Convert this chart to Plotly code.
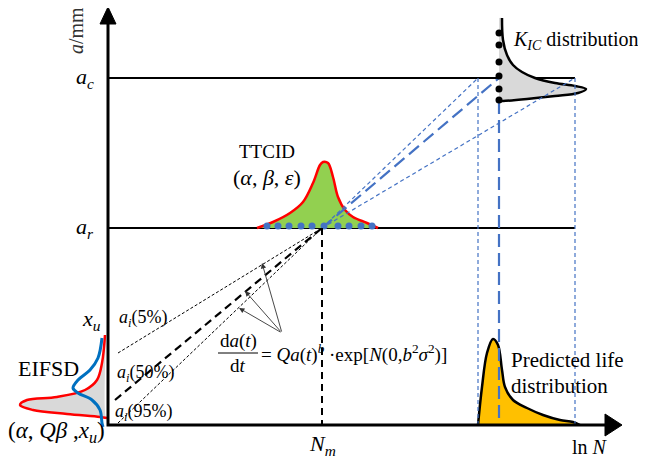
import plotly.graph_objects as go

# ---------------- data (x: ln N, y: crack size a; origin = axis corner) ----------------
A_C = 347          # critical crack size a_c
A_R = 197          # reference crack size a_r
X_U = 105          # upper EIFS bound x_u
N_M = 214          # median life N_m (at a_r)
GUIDE_END = 467    # right end of the a_c / a_r guide lines
Y_TOP = 418        # tip of the a/mm axis
X_RIGHT = 514      # tip of the ln N axis

# TTCID distribution sitting on a_r
ttcid_x = [149, 165, 182, 195, 205, 212, 215, 220, 225, 230, 237, 245, 259, 270]
ttcid_y = [197, 203, 212, 223, 242, 260, 263, 262, 248, 228, 215, 208, 202, 197]
ttcid_pts_x = [159, 170, 181, 193, 204, 216, 230, 241, 253, 264]
TTCID_PTS_Y = 199

# K_IC distribution at a_c
kic_x = [394, 395, 399, 405, 414, 427, 447, 467, 478, 470, 447, 419, 395, 391]
kic_y = [407, 385, 370, 360, 353, 347, 342, 339, 336, 332, 329, 326, 324, 324]
kic_pts_y = [392, 380, 363, 349, 336, 325]
KIC_BASE = 391

# predicted life distribution on the ln N axis
life_x = [370, 374, 379, 385, 390, 394, 397, 405, 419, 435, 452, 465, 472]
life_y = [0, 38, 72, 86, 80, 55, 38, 25, 17, 10, 5, 3, 0]

# EIFSD curves
eifs_red_x = [-3, -6, -11, -23, -51, -81, -88, -75, -41, -8, -1]
eifs_red_y = [90, 62, 45, 35, 28, 25, 20, 15, 11, 8, 7]
eifs_blue_x = [-6, -10, -18, -30, -35, -30, -16, -8, -6, -5]
eifs_blue_y = [87, 67, 55, 45, 37, 32, 25, 15, 2, -2]
EIFS_BASE = -2

# crack growth curves a_i(5%), a_i(50%), a_i(95%): start points, all converge at (N_M, A_R)
crack_labels = ["5%", "50%", "95%"]
crack_start_x = [10, 7, 10]
crack_start_y = [72, 25, 2]
crack_label_x = [35, 37, 35]
crack_label_y = [107, 52, 13]

# projections to a_c and the resulting lives on ln N
proj_x = [370, 391, 467]
proj_top = [347, 324, 347]

# arrows of the growth law
arrow_src = (174, 92)
arrow_head_x = [154, 137, 131]
arrow_head_y = [162, 134, 117]

BLUE = "#4472C4"
FONT = "Liberation Serif"

fig = go.Figure()

# guide lines a_c and a_r
for lvl in (A_C, A_R):
    fig.add_trace(go.Scatter(x=[0, GUIDE_END], y=[lvl, lvl], mode="lines",
                             line=dict(color="black", width=2.2), hoverinfo="skip"))

# EIFSD
fig.add_trace(go.Scatter(x=eifs_red_x + [EIFS_BASE, EIFS_BASE], y=eifs_red_y + [eifs_red_y[-1], eifs_red_y[0]],
                         mode="lines", line=dict(width=0, shape="spline"), fill="toself",
                         fillcolor="#D9D9D9", hoverinfo="skip"))
fig.add_trace(go.Scatter(x=eifs_red_x, y=eifs_red_y, mode="lines",
                         line=dict(color="#FF0000", width=2.5, shape="spline"), hoverinfo="skip"))
fig.add_trace(go.Scatter(x=eifs_blue_x, y=eifs_blue_y, mode="lines",
                         line=dict(color="#0070C0", width=3, shape="spline"), hoverinfo="skip"))

# TTCID
fig.add_trace(go.Scatter(x=[ttcid_x[0], ttcid_x[-1]], y=[A_R, A_R], mode="lines",
                         line=dict(width=0), hoverinfo="skip"))
fig.add_trace(go.Scatter(x=ttcid_x, y=ttcid_y, mode="lines", fill="tonexty", fillcolor="#92D050",
                         line=dict(color="#FF0000", width=2.5, shape="spline"), hoverinfo="skip"))
fig.add_trace(go.Scatter(x=ttcid_pts_x, y=[TTCID_PTS_Y] * len(ttcid_pts_x), mode="markers",
                         marker=dict(color=BLUE, size=7), hoverinfo="skip"))

# K_IC distribution
fig.add_trace(go.Scatter(x=[KIC_BASE] + kic_x, y=[kic_y[0]] + kic_y, mode="lines",
                         line=dict(width=0, shape="spline"), fill="toself", fillcolor="#D9D9D9",
                         hoverinfo="skip"))
fig.add_trace(go.Scatter(x=kic_x, y=kic_y, mode="lines",
                         line=dict(color="black", width=2.5, shape="spline"), hoverinfo="skip"))

# predicted life distribution
fig.add_trace(go.Scatter(x=life_x, y=life_y, mode="lines", fill="tozeroy", fillcolor="#FFC000",
                         line=dict(color="black", width=2.5, shape="spline"), hoverinfo="skip"))

# blue projection lines
for i, px in enumerate(proj_x):
    thick = (i == 1)
    st = dict(color=BLUE, width=2.2 if thick else 1.2, dash="13px,6px" if thick else "4px,3px")
    fig.add_trace(go.Scatter(x=[N_M, px], y=[A_R, A_C], mode="lines", line=st, hoverinfo="skip"))
    fig.add_trace(go.Scatter(x=[px, px], y=[proj_top[i], 0], mode="lines", line=st, hoverinfo="skip"))

fig.add_trace(go.Scatter(x=[KIC_BASE] * len(kic_pts_y), y=kic_pts_y, mode="markers",
                         marker=dict(color="black", size=7), hoverinfo="skip"))

# crack growth curves
for i in range(3):
    thick = (i == 1)
    st = dict(color="black", width=2.2 if thick else 1, dash="8px,5px" if thick else "3px,2px")
    fig.add_trace(go.Scatter(x=[crack_start_x[i], N_M], y=[crack_start_y[i], A_R], mode="lines",
                             line=st, hoverinfo="skip"))

# N_m vertical
fig.add_trace(go.Scatter(x=[N_M, N_M], y=[A_R, 0], mode="lines",
                         line=dict(color="black", width=2, dash="7px,5px"), hoverinfo="skip"))

# axes
fig.add_trace(go.Scatter(x=[0, 0, X_RIGHT - 16], y=[Y_TOP - 16, 0, 0], mode="lines",
                         line=dict(color="black", width=3), hoverinfo="skip"))
fig.add_trace(go.Scatter(x=[-8, 0, 8, -8], y=[Y_TOP - 17, Y_TOP, Y_TOP - 17, Y_TOP - 17], mode="lines",
                         fill="toself", fillcolor="black", line=dict(color="black", width=1),
                         hoverinfo="skip"))
fig.add_trace(go.Scatter(x=[X_RIGHT - 17, X_RIGHT, X_RIGHT - 17, X_RIGHT - 17], y=[-11, 0, 11, -11],
                         mode="lines", fill="toself", fillcolor="black",
                         line=dict(color="black", width=1), hoverinfo="skip"))

# arrows
for hx, hy in zip(arrow_head_x, arrow_head_y):
    fig.add_annotation(x=hx, y=hy, ax=arrow_src[0], ay=arrow_src[1], xref="x", yref="y",
                       axref="x", ayref="y", text="", showarrow=True, arrowhead=2,
                       arrowsize=1.2, arrowwidth=0.9, arrowcolor="#333")

# fraction bar
fig.add_trace(go.Scatter(x=[110, 150], y=[72, 72], mode="lines",
                         line=dict(color="black", width=1), hoverinfo="skip"))


def txt(x, y, s, size=19, anchor="center", color="black", angle=0):
    fig.add_annotation(x=x, y=y, text=s, showarrow=False, xanchor=anchor, yanchor="middle",
                       textangle=angle, font=dict(family=FONT, size=size, color=color))


txt(-32, 394, "<i>a</i>/mm", size=20, color="#333", angle=-90)
txt(-12, A_C, "<i>a</i><sub><i>c</i></sub>", size=22, anchor="right")
txt(-12, A_R, "<i>a</i><sub><i>r</i></sub>", size=22, anchor="right")
txt(-5, X_U, "<i>x</i><sub><i>u</i></sub>", size=22, anchor="right")
txt(-60, 57, "EIFSD", size=22)
txt(-52, -7, "(<i>α</i>, <i>Qβ</i> ,<i>x</i><sub><i>u</i></sub>)", size=23)
for lab, lx, ly in zip(crack_labels, crack_label_x, crack_label_y):
    txt(lx, ly, "<i>a</i><sub><i>i</i></sub>(" + lab + ")", size=18)
txt(159, 274, "TTCID", size=19)
txt(159, 248, "(<i>α</i>, <i>β</i>, <i>ε</i>)", size=22)
txt(403, 385, "<i>K</i><sub><i>IC</i></sub> distribution", size=20, anchor="left")
txt(401, 65, "Predicted life", size=21, anchor="left")
txt(401, 39, "distribution", size=21, anchor="left")
txt(N_M, -20, "<i>N</i><sub><i>m</i></sub>", size=22)
txt(482, -22, "ln <i>N</i>", size=20)
txt(130, 84, "d<i>a</i>(<i>t</i>)", size=19)
txt(130, 60, "d<i>t</i>", size=19)
txt(151, 72, "= <i>Qa</i>(<i>t</i>)<sup><i>b</i></sup> ·exp[<i>N</i>(0,<i>b</i><sup>2</sup><i>σ</i><sup>2</sup>)]",
    size=19, anchor="left")

# the page body has an 8 px margin: the figure is sized so the whole page is 646 x 461
fig.update_layout(width=638, height=453, margin=dict(l=0, r=0, t=0, b=0),
                  paper_bgcolor="white", plot_bgcolor="white", showlegend=False,
                  xaxis=dict(range=[-100, 538], visible=False, fixedrange=True),
                  yaxis=dict(range=[-36, 417], visible=False, fixedrange=True))

fig.write_html("out.html")
